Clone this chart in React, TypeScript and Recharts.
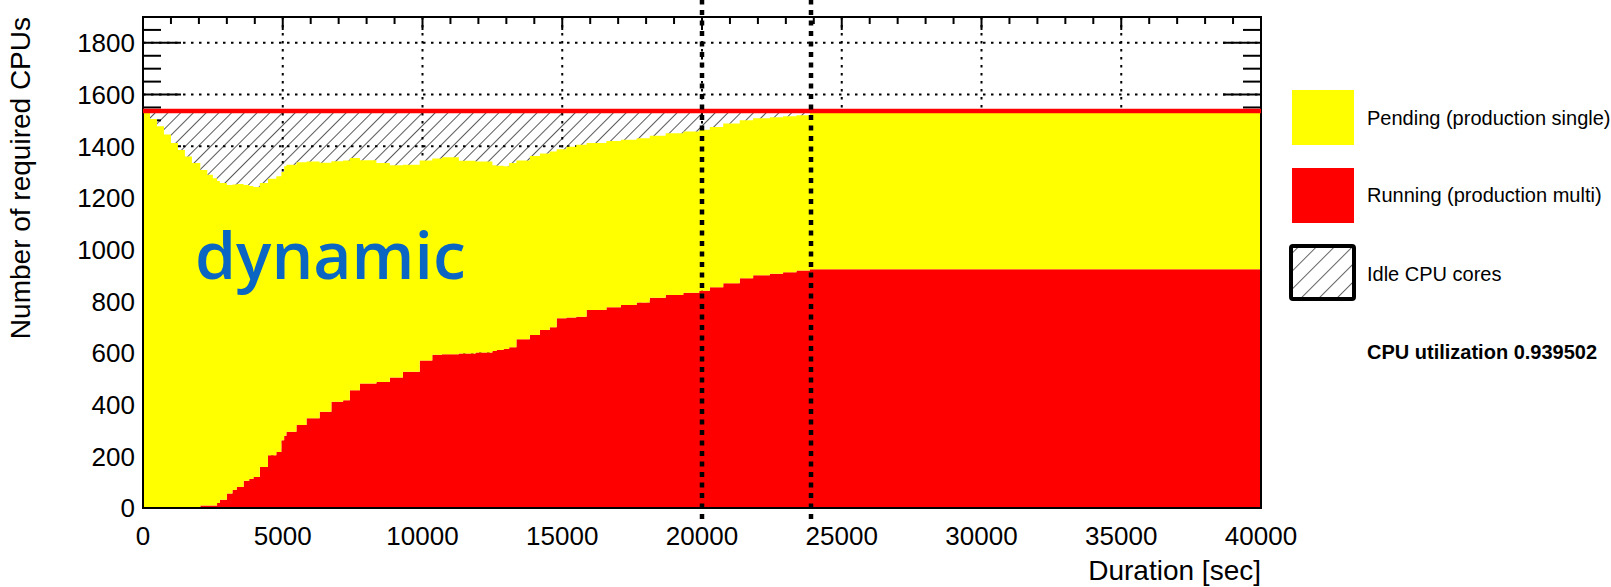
import React from 'react';
import {
  AreaChart,
  Area,
  ComposedChart,
  Line,
  LineChart,
  XAxis,
  YAxis,
  CartesianGrid,
  ReferenceLine,
  ReferenceArea
} from 'recharts';

// time [sec] of each step
const TIMES = [
  0, 250, 500, 750, 1000, 1250, 1500, 1750, 2050, 2300, 2500, 2650, 2750, 3000, 3200, 3350,
  3600, 3800, 3950, 4180, 4470, 4770, 4950, 5050, 5130, 5490, 5850, 6320, 6740, 7160, 7400,
  7760, 8350, 8830, 9300, 9900, 10350, 10700, 11300, 11900, 12500, 12650, 12900, 13100, 13360,
  13840, 14200, 14550, 14800, 15150, 15500, 15870, 16580, 17100, 17660, 18130, 18700, 19330,
  19900, 20280, 20760, 21350, 21830, 22430, 22900, 23380, 23860, 40000
];
// running (production multi) CPUs
const RUNNING = [
  0, 0, 0, 0, 0, 0, 0, 0, 10, 10, 10, 19, 32, 56, 70, 81,
  105, 112, 120, 159, 204, 217, 262, 280, 295, 321, 347, 372, 411, 417, 456,
  482, 488, 505, 527, 571, 593, 595, 598, 602, 608, 611, 615, 622, 653,
  669, 689, 699, 734, 737, 740, 766, 777, 786, 795, 814, 824, 833,
  841, 854, 870, 889, 901, 906, 912, 919, 924, 924
];
// running + pending CPUs (top of the yellow)
const TOTAL = [
  1530, 1505, 1477, 1445, 1412, 1385, 1360, 1335, 1308, 1290, 1276, 1265, 1258, 1250, 1252, 1254,
  1250, 1246, 1242, 1258, 1274, 1284, 1300, 1322, 1328, 1338, 1341, 1336, 1342, 1345, 1354,
  1346, 1335, 1326, 1328, 1345, 1352, 1357, 1344, 1341, 1326, 1324, 1322, 1335, 1345,
  1362, 1372, 1380, 1388, 1398, 1406, 1412, 1420, 1425, 1431, 1440, 1450, 1457,
  1464, 1474, 1488, 1500, 1508, 1512, 1516, 1520, 1536, 1536
];
const CAPACITY = 1536;
const MARKERS = [20000, 23900];

const X_MAJOR = [0, 5000, 10000, 15000, 20000, 25000, 30000, 35000, 40000];
const Y_MAJOR = [0, 200, 400, 600, 800, 1000, 1200, 1400, 1600, 1800];
const X_MINOR = Array.from({ length: 41 }, (_, i) => i * 1000);
const Y_MINOR = Array.from({ length: 38 }, (_, i) => i * 50);

const rows = TIMES.map((t, i) => ({
  t,
  running: RUNNING[i],
  pending: TOTAL[i] - RUNNING[i],
  idle: CAPACITY - TOTAL[i]
}));

const W = 1611;
const H = 587;
const P = { left: 143, top: 17, right: 1261, bottom: 508 };
const margin = { top: P.top, left: P.left, right: W - P.right, bottom: H - P.bottom };
const FONT = '"Liberation Sans", Arial, Helvetica, sans-serif';

// axis sizes in the back chart; margins shrink by the same amounts
const AX_B = 40;
const AX_L = 60;
const AX_T = 2;
const AX_R = 2;
const backMargin = {
  top: margin.top - AX_T,
  left: margin.left - AX_L,
  right: margin.right - AX_R,
  bottom: margin.bottom - AX_B
};

const bottomTick = (p: any) => {
  const v = p.payload.value;
  const major = v % 5000 === 0;
  return (
    <g key={`b${v}`}>
      <line x1={p.x} x2={p.x} y1={P.bottom} y2={P.bottom - (major ? 13 : 7)} stroke="#000" strokeWidth={2} />
      {major && (
        <text x={p.x} y={545} textAnchor="middle" fontSize={26} fontFamily={FONT} fill="#000">{v}</text>
      )}
    </g>
  );
};

const topTick = (p: any) => {
  const v = p.payload.value;
  const major = v % 5000 === 0;
  return <line key={`t${v}`} x1={p.x} x2={p.x} y1={P.top} y2={P.top + (major ? 13 : 7)} stroke="#000" strokeWidth={2} />;
};

const leftTick = (p: any) => {
  const v = p.payload.value;
  const major = v % 200 === 0;
  return (
    <g key={`l${v}`}>
      <line x1={P.left} x2={P.left + (major ? 38 : 18)} y1={p.y} y2={p.y} stroke="#000" strokeWidth={2} />
      {major && (
        <text x={135} y={p.y} dy="0.36em" textAnchor="end" fontSize={26} fontFamily={FONT} fill="#000">{v}</text>
      )}
    </g>
  );
};

const rightTick = (p: any) => {
  const v = p.payload.value;
  const major = v % 200 === 0;
  return <line key={`r${v}`} x1={P.right} x2={P.right - (major ? 38 : 18)} y1={p.y} y2={p.y} stroke="#000" strokeWidth={2} />;
};

const layer: React.CSSProperties = { position: 'absolute', left: 0, top: 0 };

export default function App() {
  return (
    <div style={{ position: 'absolute', left: 0, top: 0, width: W, height: H, background: '#fff' }}>
      {/* axes, ticks and grid: underneath the filled areas */}
      <div style={layer}>
        <ComposedChart width={W} height={H} data={rows} margin={backMargin}>
          <CartesianGrid
            stroke="#000"
            strokeWidth={2}
            strokeDasharray="2.5 5.5"
            verticalValues={X_MAJOR}
            horizontalValues={Y_MAJOR}
          />
          <XAxis dataKey="t" type="number" domain={[0, 40000]} ticks={X_MINOR} interval={0} height={AX_B}
            axisLine={false} tickLine={false} tick={bottomTick} allowDataOverflow />
          <XAxis xAxisId="top" orientation="top" dataKey="t" type="number" domain={[0, 40000]} ticks={X_MINOR}
            interval={0} height={AX_T} axisLine={false} tickLine={false} tick={topTick} allowDataOverflow />
          <YAxis type="number" domain={[0, 1900]} ticks={Y_MINOR} interval={0} width={AX_L}
            axisLine={false} tickLine={false} tick={leftTick} allowDataOverflow />
          <YAxis yAxisId="right" orientation="right" type="number" domain={[0, 1900]} ticks={Y_MINOR} interval={0}
            width={AX_R} axisLine={false} tickLine={false} tick={rightTick} allowDataOverflow />
          <Line dataKey="running" stroke="none" dot={false} activeDot={false} isAnimationActive={false} />
          <Line dataKey="running" xAxisId="top" yAxisId="right" stroke="none" dot={false} activeDot={false}
            isAnimationActive={false} />
        </ComposedChart>
      </div>

      {/* stacked histograms */}
      <div style={layer}>
        <AreaChart width={W} height={H} data={rows} margin={margin}>
          <defs>
            <pattern id="hatch" patternUnits="userSpaceOnUse" width="9" height="9" patternTransform="rotate(45)">
              <line x1="0" y1="0" x2="0" y2="9" stroke="#000" strokeWidth="1.3" />
            </pattern>
          </defs>
          <XAxis dataKey="t" type="number" domain={[0, 40000]} hide />
          <YAxis type="number" domain={[0, 1900]} hide allowDataOverflow />
          <Area type="stepAfter" dataKey="running" stackId="a" fill="#ff0000" fillOpacity={1} stroke="none"
            dot={false} activeDot={false} isAnimationActive={false} />
          <Area type="stepAfter" dataKey="pending" stackId="a" fill="#ffff00" fillOpacity={1} stroke="none"
            dot={false} activeDot={false} isAnimationActive={false} />
          <Area type="stepAfter" dataKey="idle" stackId="a" fill="url(#hatch)" fillOpacity={1} stroke="none"
            dot={false} activeDot={false} isAnimationActive={false} />
          <ReferenceLine y={CAPACITY} stroke="#ff0000" strokeWidth={4.5} />
          <ReferenceArea x1={0} x2={40000} y1={0} y2={1900} fill="none" stroke="#000" strokeWidth={2} />
        </AreaChart>
      </div>

      {/* thick dotted markers, running past the frame */}
      <div style={layer}>
        <LineChart width={W} height={H} data={rows}
          margin={{ top: 0, left: P.left, right: W - P.right, bottom: H - 519 }}>
          <XAxis dataKey="t" type="number" domain={[0, 40000]} hide />
          <YAxis type="number" domain={[0, 1900]} hide />
          <Line dataKey="running" stroke="none" dot={false} activeDot={false} isAnimationActive={false} />
          {MARKERS.map((m) => (
            <ReferenceLine key={m} x={m} stroke="#000" strokeWidth={4.5} strokeDasharray="5 5.5" />
          ))}
        </LineChart>
      </div>

      {/* titles, note and legend */}
      <svg width={W} height={H} style={{ ...layer, pointerEvents: 'none' }}>
        <defs>
          <pattern id="hatchLegend" patternUnits="userSpaceOnUse" width="12.7" height="12.7" patternTransform="rotate(45)">
            <line x1="0" y1="0" x2="0" y2="12.7" stroke="#000" strokeWidth="1.2" />
          </pattern>
        </defs>
        <text transform="translate(30,17) rotate(-90)" textAnchor="end" fontSize={28} fontFamily={FONT} fill="#000">
          Number of required CPUs
        </text>
        <text x={P.right} y={580} textAnchor="end" fontSize={28} fontFamily={FONT} fill="#000">Duration [sec]</text>
        <text x={195} y={279} fontSize={66} fontWeight={600} fontFamily='"Open Sans", sans-serif' fill="#0a66c2">dynamic</text>

        <rect x={1292} y={90} width={62} height={55} fill="#ffff00" />
        <text x={1367} y={118} dy="0.36em" fontSize={20} fontFamily={FONT} fill="#000">Pending (production single)</text>
        <rect x={1292} y={168} width={62} height={55} fill="#ff0000" />
        <text x={1367} y={195} dy="0.36em" fontSize={20} fontFamily={FONT} fill="#000">Running (production multi)</text>
        <rect x={1291} y={246} width={63} height={53} rx={2} fill="url(#hatchLegend)" stroke="#000" strokeWidth={4} />
        <text x={1367} y={274} dy="0.36em" fontSize={20} fontFamily={FONT} fill="#000">Idle CPU cores</text>
        <text x={1367} y={352} dy="0.36em" fontSize={20} fontWeight="bold" fontFamily={FONT} fill="#000">
          CPU utilization 0.939502
        </text>
      </svg>
    </div>
  );
}
